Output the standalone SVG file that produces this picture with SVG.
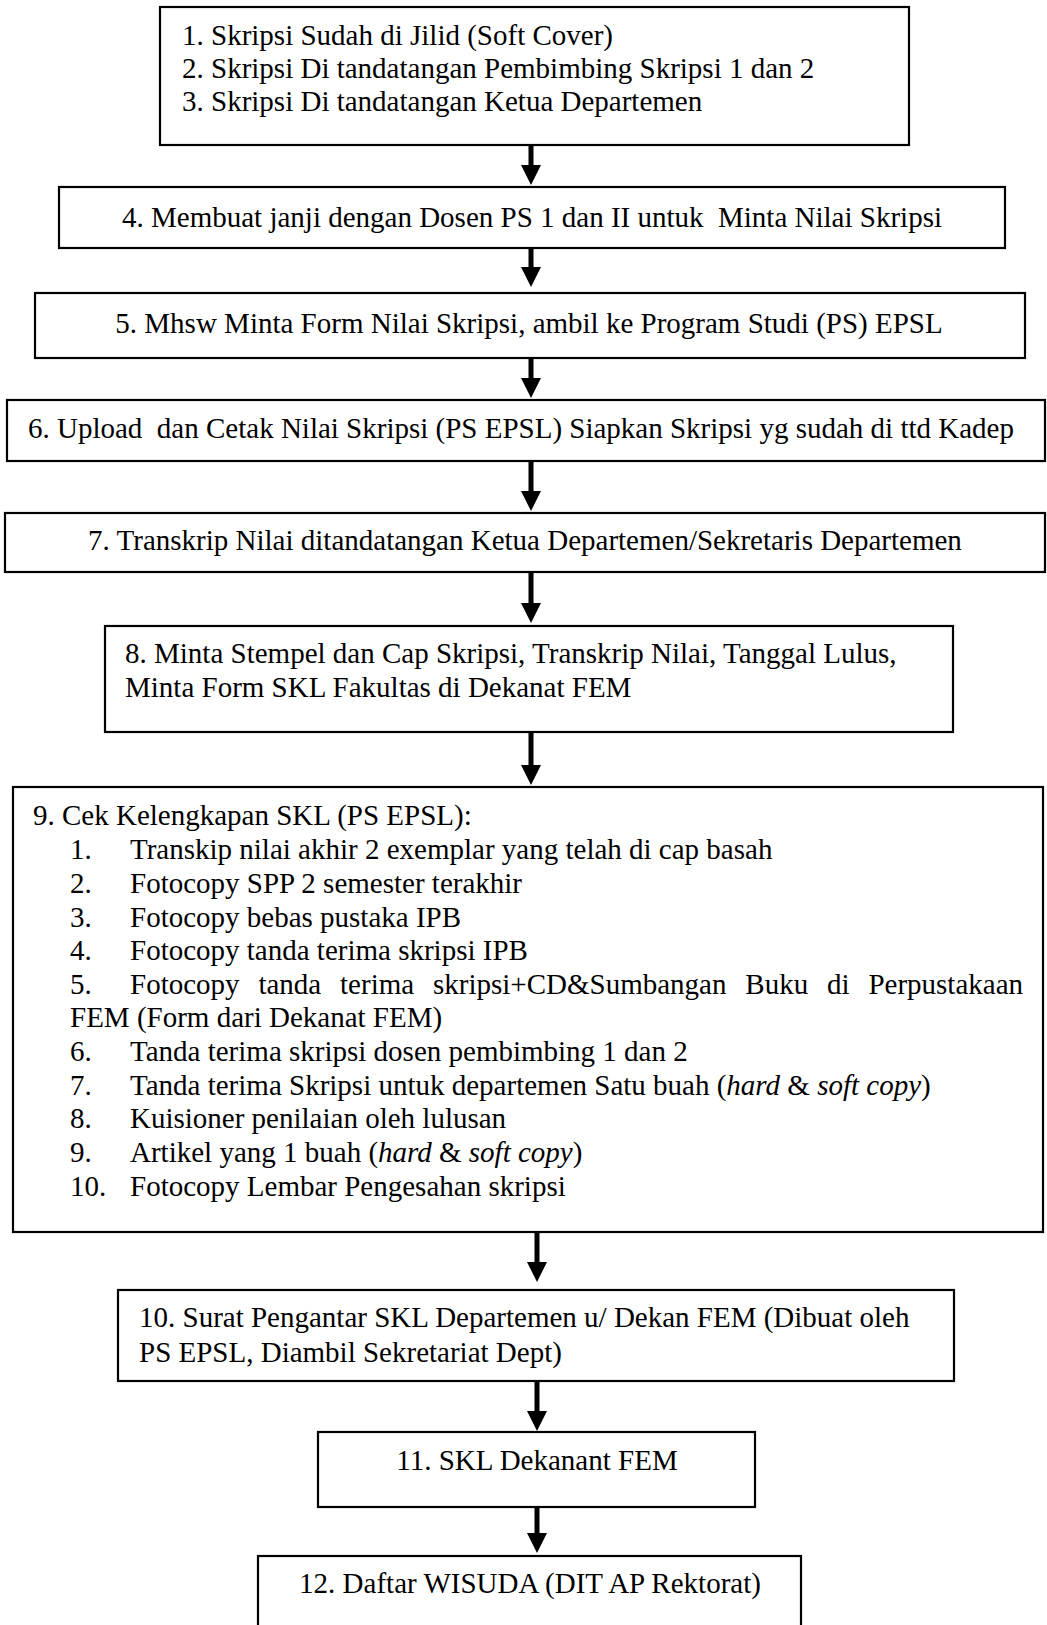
<svg xmlns="http://www.w3.org/2000/svg" width="1047" height="1625" viewBox="0 0 1047 1625">
<defs>
<style>
.box{fill:#fff;stroke:#000;stroke-width:2.2}
.t{font-family:"Liberation Serif","Times New Roman",serif;font-size:29px;fill:#000}
.c{text-anchor:middle}
.i{font-style:italic}
.conn{stroke:#000;stroke-width:5;fill:none}
</style>
<marker id="ah" markerUnits="userSpaceOnUse" markerWidth="20" markerHeight="20" refX="0" refY="10" orient="auto">
<path d="M0,0 L20,10 L0,20 Z" fill="#000"/>
</marker>
</defs>
<rect width="1047" height="1625" fill="#fff"/>

<g id="connectors">
<line class="conn" x1="531" y1="145" x2="531" y2="165" marker-end="url(#ah)"/>
<line class="conn" x1="531" y1="248" x2="531" y2="267" marker-end="url(#ah)"/>
<line class="conn" x1="531" y1="358" x2="531" y2="378" marker-end="url(#ah)"/>
<line class="conn" x1="531" y1="461" x2="531" y2="491" marker-end="url(#ah)"/>
<line class="conn" x1="531" y1="572" x2="531" y2="603" marker-end="url(#ah)"/>
<line class="conn" x1="531" y1="732" x2="531" y2="765" marker-end="url(#ah)"/>
<line class="conn" x1="537" y1="1232" x2="537" y2="1262" marker-end="url(#ah)"/>
<line class="conn" x1="537" y1="1381" x2="537" y2="1411" marker-end="url(#ah)"/>
<line class="conn" x1="537" y1="1504" x2="537" y2="1533" marker-end="url(#ah)"/>
</g>

<g id="n1">
<rect class="box" x="160" y="7" width="749" height="138"/>
<text class="t" x="182" y="45">1. Skripsi Sudah di Jilid (Soft Cover)</text>
<text class="t" x="182" y="78">2. Skripsi Di tandatangan Pembimbing Skripsi 1 dan 2</text>
<text class="t" x="182" y="111">3. Skripsi Di tandatangan Ketua Departemen</text>
</g>

<g id="n4">
<rect class="box" x="59" y="187" width="946" height="61"/>
<text class="t c" x="532" y="227" xml:space="preserve">4. Membuat janji dengan Dosen PS 1 dan II untuk  Minta Nilai Skripsi</text>
</g>

<g id="n5">
<rect class="box" x="35" y="293" width="990" height="65"/>
<text class="t c" x="529" y="333">5. Mhsw Minta Form Nilai Skripsi, ambil ke Program Studi (PS) EPSL</text>
</g>

<g id="n6">
<rect class="box" x="7" y="400" width="1038" height="61"/>
<text class="t" x="28" y="438" xml:space="preserve">6. Upload  dan Cetak Nilai Skripsi (PS EPSL) Siapkan Skripsi yg sudah di ttd Kadep</text>
</g>

<g id="n7">
<rect class="box" x="5" y="513" width="1040" height="59"/>
<text class="t c" x="525" y="550">7. Transkrip Nilai ditandatangan Ketua Departemen/Sekretaris Departemen</text>
</g>

<g id="n8">
<rect class="box" x="105" y="626" width="848" height="106"/>
<text class="t" x="125" y="663">8. Minta Stempel dan Cap Skripsi, Transkrip Nilai, Tanggal Lulus,</text>
<text class="t" x="125" y="697">Minta Form SKL Fakultas di Dekanat FEM</text>
</g>

<g id="n9">
<rect class="box" x="13" y="787" width="1030" height="445"/>
<text class="t" x="33" y="825">9. Cek Kelengkapan SKL (PS EPSL):</text>
<text class="t" x="70" y="859">1.</text><text class="t" x="130" y="859">Transkip nilai akhir 2 exemplar yang telah di cap basah</text>
<text class="t" x="70" y="893">2.</text><text class="t" x="130" y="893">Fotocopy SPP 2 semester terakhir</text>
<text class="t" x="70" y="927">3.</text><text class="t" x="130" y="927">Fotocopy bebas pustaka IPB</text>
<text class="t" x="70" y="960">4.</text><text class="t" x="130" y="960">Fotocopy tanda terima skripsi IPB</text>
<text class="t" x="70" y="994">5.</text><text class="t" x="130" y="994" word-spacing="11.6">Fotocopy tanda terima skripsi+CD&amp;Sumbangan Buku di Perpustakaan</text>
<text class="t" x="70" y="1027">FEM (Form dari Dekanat FEM)</text>
<text class="t" x="70" y="1061">6.</text><text class="t" x="130" y="1061">Tanda terima skripsi dosen pembimbing 1 dan 2</text>
<text class="t" x="70" y="1095">7.</text><text class="t" x="130" y="1095">Tanda terima Skripsi untuk departemen Satu buah (<tspan class="i">hard</tspan> &amp; <tspan class="i">soft copy</tspan>)</text>
<text class="t" x="70" y="1128">8.</text><text class="t" x="130" y="1128">Kuisioner penilaian oleh lulusan</text>
<text class="t" x="70" y="1162">9.</text><text class="t" x="130" y="1162">Artikel yang 1 buah (<tspan class="i">hard</tspan> &amp; <tspan class="i">soft copy</tspan>)</text>
<text class="t" x="70" y="1196">10.</text><text class="t" x="130" y="1196">Fotocopy Lembar Pengesahan skripsi</text>
</g>

<g id="n10">
<rect class="box" x="118" y="1290" width="836" height="91"/>
<text class="t" x="139" y="1327">10. Surat Pengantar SKL Departemen u/ Dekan FEM (Dibuat oleh</text>
<text class="t" x="139" y="1362">PS EPSL, Diambil Sekretariat Dept)</text>
</g>

<g id="n11">
<rect class="box" x="318" y="1432" width="437" height="75"/>
<text class="t c" x="537" y="1470">11. SKL Dekanant FEM</text>
</g>

<g id="n12">
<rect class="box" x="258" y="1556" width="543" height="80"/>
<text class="t c" x="530" y="1593">12. Daftar WISUDA (DIT AP Rektorat)</text>
</g>
</svg>
